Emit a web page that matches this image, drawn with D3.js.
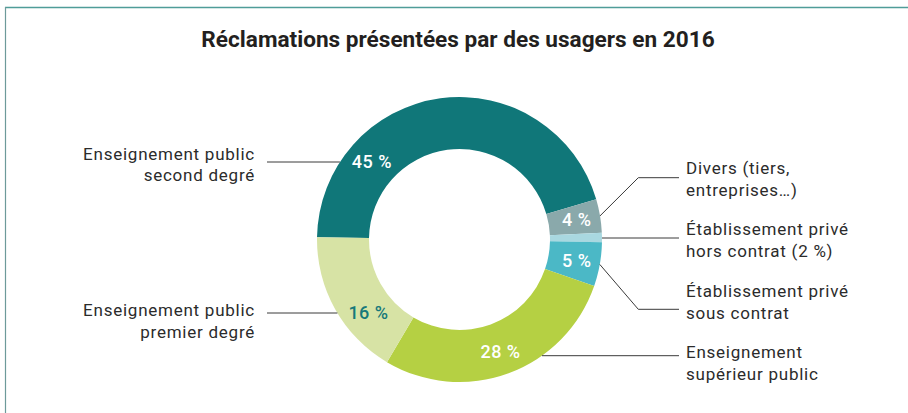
<!DOCTYPE html>
<html><head><meta charset="utf-8">
<script src="https://cdn.jsdelivr.net/npm/d3@7"></script>
<style>body{margin:0;background:#fff}svg{display:block}</style>
</head><body><svg id="c" width="908" height="413"></svg>
<script>
// ---- data ----
const title = "Réclamations présentées par des usagers en 2016";
const categories = ["Enseignement public second degré","Divers (tiers, entreprises…)","Établissement privé hors contrat","Établissement privé sous contrat","Enseignement supérieur public","Enseignement public premier degré"];
const values = [45.2, 3.8, 1.05, 5.0, 28.2, 16.75];
const valueLabels = ["45 %","4 %","","5 %","28 %","16 %"];
const calloutText = [["Enseignement public","second degré"],["Divers (tiers,","entreprises…)"],["Établissement privé","hors contrat (2 %)"],["Établissement privé","sous contrat"],["Enseignement","supérieur public"],["Enseignement public","premier degré"]];
const colors = ["#107779","#8aa9ab","#a9d8e0","#4bb8c6","#b5d043","#d7e3a5"];

// ---- layout ----
const W = 908, H = 413;
const cx = 459.5, cy = 239.5, rOut = 142.5, rIn = 90.5;
const deg = Math.PI / 180;
const start = -89.1 * deg;
const callouts = [
  {side:"left", type:"h", y:162, base:159.5},
  {side:"right", type:"e", y:177.7, base:174},
  {side:"right", type:"m", y:238, base:235},
  {side:"right", type:"e", y:309.3, base:297.3},
  {side:"right", type:"h", y:355.7, base:358.3},
  {side:"left", type:"h", y:313, base:316}
];
const leftTextX = 255, leftLineX = 267, rightLineX = 679, rightTextX = 686, elbowX = 638.3, lineH = 21.5;

const svg = d3.select("#c");
const font = "Roboto, 'DejaVu Sans', sans-serif";

// frame
svg.append("line").attr("x1",5).attr("x2",W).attr("y1",7.5).attr("y2",7.5).attr("stroke","#4f9d99").attr("stroke-width",1.6);
svg.append("line").attr("x1",5.5).attr("x2",5.5).attr("y1",7).attr("y2",H).attr("stroke","#6d9a9a").attr("stroke-width",1.2);

// title
svg.append("text").attr("x",458).attr("y",47.3).attr("text-anchor","middle")
  .attr("font-family",font).attr("font-weight",700).attr("font-size",22.6).attr("fill","#231f20").text(title);

const pie = d3.pie().sort(null).startAngle(start).endAngle(start + 2*Math.PI);
const arcs = pie(values);
const arc = d3.arc().innerRadius(rIn).outerRadius(rOut);
const labelArc = d3.arc().innerRadius(119).outerRadius(119);
const g = svg.append("g").attr("transform",`translate(${cx},${cy})`);
g.selectAll("path").data(arcs).join("path").attr("d",arc).attr("fill",(d,i)=>colors[i]);

// value labels
const rMid = 117;
arcs.forEach((d,i)=>{
  if(!valueLabels[i]) return;
  let x, y;
  const c = callouts[i];
  if (c.side==="left"){
    const dy = c.y - cy;
    x = -Math.sqrt(rMid*rMid - dy*dy); y = dy;
  } else {
    [x,y] = labelArc.centroid(d);
  }
  g.append("text").attr("x",x).attr("y",y).attr("dy","0.36em").attr("text-anchor","middle")
    .attr("font-family",font).attr("font-weight",500).attr("font-size",18).attr("letter-spacing",0.5)
    .attr("fill", i===5 ? "#17797b" : "#ffffff").text(valueLabels[i]);
});

// callouts
const lines = svg.append("g").attr("fill","none").attr("stroke","#3a3a3a").attr("stroke-width",1);
arcs.forEach((d,i)=>{
  const c = callouts[i];
  let pts;
  if (c.type==="h"){
    const dy = c.y - cy, dx = Math.sqrt(rOut*rOut - dy*dy);
    pts = c.side==="left" ? [[leftLineX,c.y],[cx-dx,c.y]] : [[cx+dx,c.y],[rightLineX,c.y]];
  } else if (c.type==="m"){
    const dy = c.y - cy, dx = Math.sqrt(rOut*rOut - dy*dy);
    pts = [[cx+dx,c.y],[rightLineX,c.y]];
  } else {
    const a = (d.startAngle + d.endAngle)/2;
    pts = [[cx + rOut*Math.sin(a), cy - rOut*Math.cos(a)],[elbowX,c.y],[rightLineX,c.y]];
  }
  lines.append("path").attr("d", d3.line()(pts));
  const t = svg.append("text").attr("font-family",font).attr("font-size",17).attr("letter-spacing",0.75).attr("fill","#2b2b2b")
    .attr("text-anchor", c.side==="left" ? "end" : "start");
  calloutText[i].forEach((s,k)=>{
    t.append("tspan").attr("x", c.side==="left" ? leftTextX : rightTextX).attr("y", c.base + k*lineH).text(s);
  });
});
</script></body></html>
